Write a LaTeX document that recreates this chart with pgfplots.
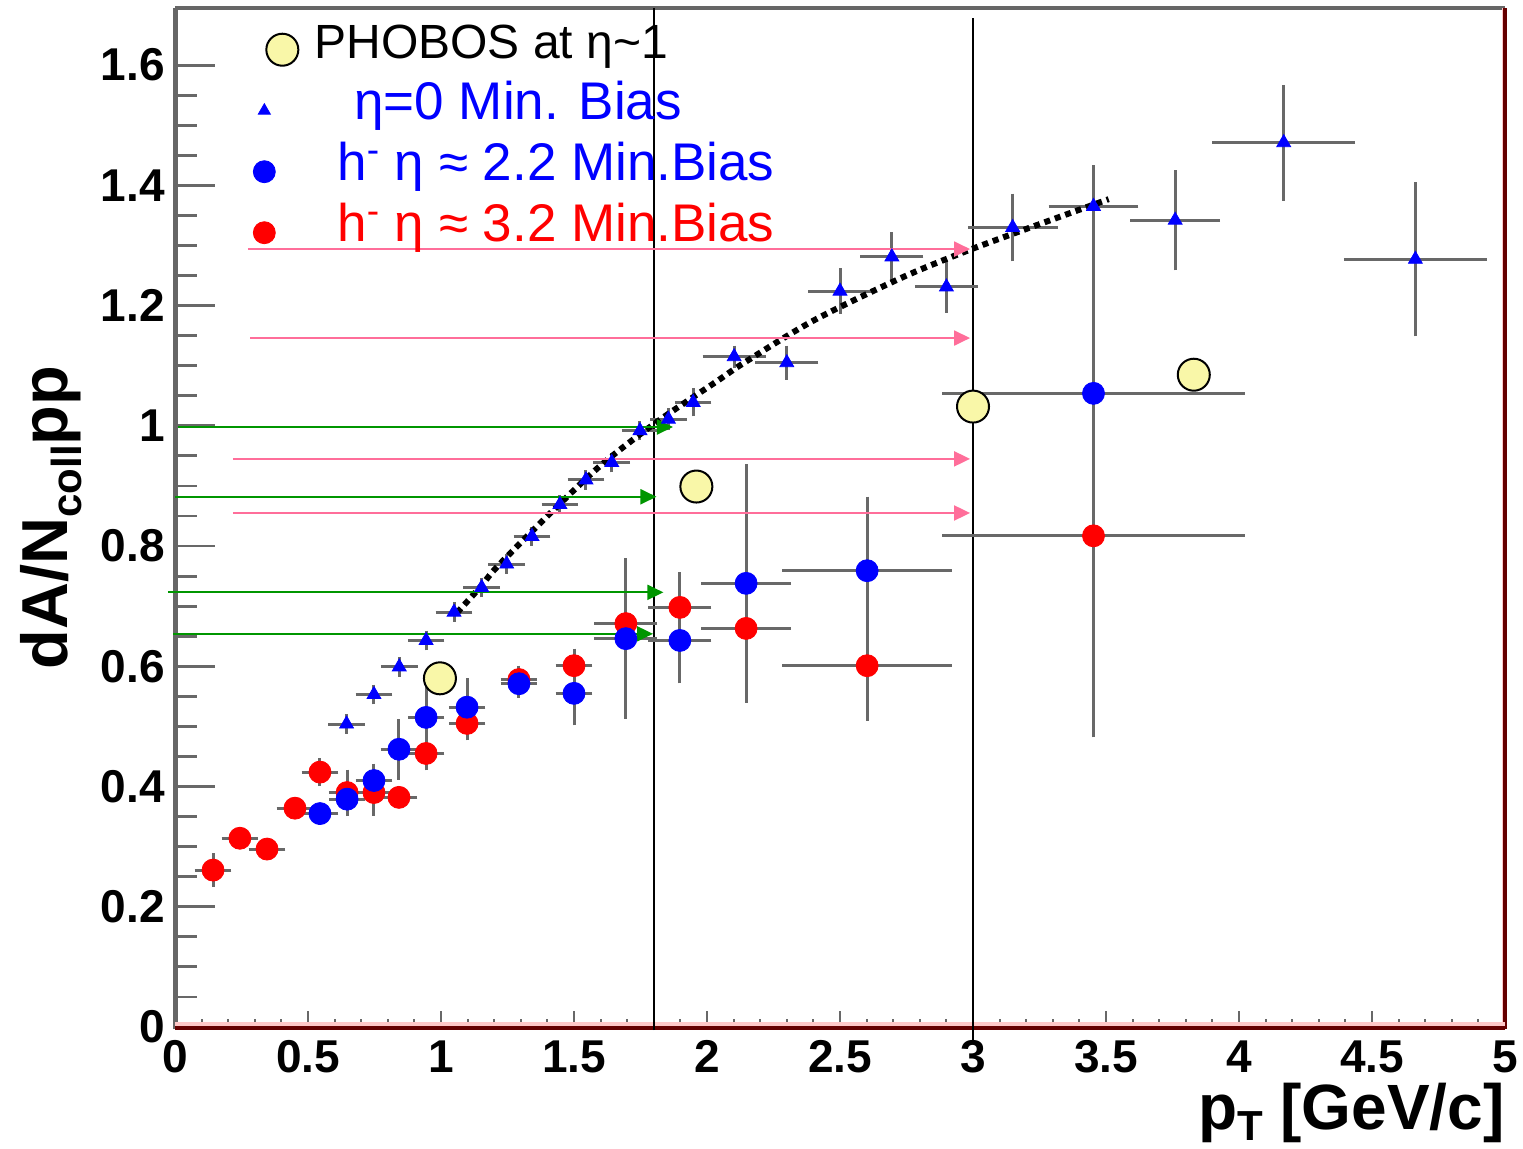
\documentclass[border=0pt]{standalone}
\usepackage{pgfplots}
\pgfplotsset{compat=1.18}
\usepackage{pgfplotstable}
\usepackage{fontspec}
\setmainfont{Liberation Sans}
\usetikzlibrary{arrows.meta}
\definecolor{phobos}{HTML}{F9F7A8}
\definecolor{errgray}{HTML}{686868}
\definecolor{spinegray}{HTML}{666666}
\definecolor{darkred}{HTML}{660000}
\definecolor{pinkband}{HTML}{FFC8C8}
\definecolor{arrowpink}{HTML}{FF6E9A}
\definecolor{arrowgreen}{HTML}{009600}

\pgfplotsset{
  legright/.style={legend image code/.code={\draw[mark repeat=2,mark phase=2,##1] plot coordinates {(0cm,0cm) (0.3cm+5.5bp,0cm) (0.6cm,0cm)};}},
  legleft/.style={legend image code/.code={\draw[mark repeat=2,mark phase=2,##1] plot coordinates {(0cm,0cm) (0.3cm-3.5bp,0cm) (0.6cm,0cm)};}},
}

\pgfplotstableread{
x y ex ey
0.645 0.504 0.05 0.008
0.748 0.553 0.05 0.008
0.843 0.599 0.05 0.008
0.944 0.643 0.05 0.008
1.049 0.690 0.05 0.008
1.153 0.731 0.05 0.008
1.247 0.770 0.05 0.008
1.342 0.816 0.05 0.008
1.447 0.869 0.05 0.008
1.545 0.910 0.05 0.008
1.642 0.939 0.05 0.008
1.748 0.992 0.05 0.008
1.855 1.011 0.05 0.010
1.948 1.039 0.05 0.015
2.102 1.115 0.10 0.010
2.300 1.105 0.10 0.020
2.500 1.224 0.10 0.030
2.695 1.281 0.10 0.033
2.900 1.231 0.10 0.035
3.149 1.330 0.15 0.048
3.453 1.365 0.15 0.060
3.760 1.342 0.15 0.075
4.168 1.471 0.25 0.088
4.663 1.277 0.25 0.120
}\etatab

\pgfplotstableread{
x y ex ey
0.545 0.355 0.05 0.010
0.647 0.379 0.05 0.020
0.748 0.410 0.05 0.020
0.842 0.462 0.05 0.042
0.944 0.515 0.05 0.050
1.098 0.532 0.05 0.040
1.293 0.571 0.05 0.015
1.500 0.555 0.05 0.045
1.695 0.646 0.10 0.125
1.898 0.643 0.10 0.063
2.147 0.738 0.15 0.190
2.602 0.759 0.30 0.115
3.453 1.054 0.55 0.317
}\bluetab

\pgfplotstableread{
x y ex ey
0.143 0.261 0.05 0.020
0.244 0.314 0.05 0.010
0.346 0.296 0.05 0.010
0.451 0.364 0.05 0.010
0.545 0.424 0.05 0.015
0.647 0.390 0.05 0.030
0.748 0.390 0.05 0.030
0.842 0.382 0.05 0.010
0.944 0.455 0.05 0.020
1.098 0.505 0.05 0.020
1.293 0.578 0.05 0.015
1.500 0.601 0.05 0.020
1.695 0.671 0.10 0.025
1.898 0.698 0.10 0.050
2.147 0.663 0.15 0.110
2.602 0.601 0.30 0.083
3.453 0.817 0.55 0.327
}\redtab

\pgfplotstableread{
x y
0.996 0.580
1.960 0.899
3.000 1.032
3.830 1.085
}\phobostab

\begin{document}
\begin{tikzpicture}
\begin{axis}[
  scale only axis, width=665bp, height=509.5bp,
  xmin=0, xmax=5, ymin=0, ymax=1.695,
  clip=false,
  axis line style={draw=none},
  tick pos=left,
  tick align=inside,
  xtick={0,0.5,1,1.5,2,2.5,3,3.5,4,4.5,5},
  xticklabels={0,0.5,1,1.5,2,2.5,3,3.5,4,4.5,5},
  ytick={0,0.2,0.4,0.6,0.8,1,1.2,1.4,1.6},
  yticklabels={0,0.2,0.4,0.6,0.8,1,1.2,1.4,1.6},
  minor x tick num=4, minor y tick num=3,
  xtick style={/pgfplots/major tick length=8bp, /pgfplots/minor tick length=4bp, color=errgray, line width=1bp},
  ytick style={/pgfplots/major tick length=20bp, /pgfplots/minor tick length=11bp, color=errgray, line width=1.4bp},
  minor tick style={color=errgray, line width=1.2bp},
  /pgf/number format/assume math mode=true,
  tick label style={font=\fontsize{23bp}{23bp}\selectfont\bfseries},
  xticklabel style={inner sep=0pt, yshift=-6.5bp},
  yticklabel style={inner sep=0pt, xshift=-5bp},
  xlabel={p\raisebox{-0.35ex}{\fontsize{21bp}{21bp}\selectfont T} [GeV/c]},
  xlabel style={at={(axis description cs:1,0)}, anchor=base east, yshift=-51bp, inner sep=0pt, font=\fontsize{32bp}{38bp}\selectfont\bfseries},
  ylabel={dA/N\raisebox{-0.4ex}{\fontsize{21bp}{21bp}\selectfont coll}pp},
  ylabel style={at={(axis description cs:-0.0805,0.5)}, anchor=base, inner sep=0pt, font=\fontsize{32.5bp}{38bp}\selectfont\bfseries},
  legend style={draw=none, fill=none, at={(axis cs:0.293,1.677)}, anchor=north west,
    inner sep=0pt, row sep=0pt,
    font=\fontsize{24bp}{29bp}\selectfont,
    nodes={inner sep=0pt, text height=19.5bp, text depth=11bp}},
  legend cell align=left,
]
% legend images
\addlegendimage{legright, only marks, mark=*, mark size=8bp, mark options={fill=phobos, draw=black, line width=1bp}}
\addlegendentry{\hspace{8bp}PHOBOS at η\textasciitilde 1}
\addlegendimage{legleft, only marks, mark=triangle*, mark size=3.5bp, color=blue}
\addlegendentry{\hspace{28bp}\textcolor{blue}{\fontsize{26.5bp}{29bp}\selectfont η=0 Min. Bias}}
\addlegendimage{legleft, only marks, mark=*, mark size=5.5bp, color=blue}
\addlegendentry{\hspace{19.5bp}\textcolor{blue}{\fontsize{26.5bp}{29bp}\selectfont h\textsuperscript{-} η ≈ 2.2 Min.Bias}}
\addlegendimage{legleft, only marks, mark=*, mark size=5.5bp, color=red}
\addlegendentry{\hspace{19.5bp}\textcolor{red}{\fontsize{26.5bp}{29bp}\selectfont h\textsuperscript{-} η ≈ 3.2 Min.Bias}}

% spines
\addplot[forget plot, spinegray, line width=2.5bp] coordinates {(0,-0.004) (0,1.695)};
\addplot[forget plot, spinegray, line width=2bp] coordinates {(0,1.695) (5,1.695)};
\addplot[forget plot, pinkband, line width=1.6bp] coordinates {(4.994,0) (4.994,1.695)};
\addplot[forget plot, darkred, line width=2bp] coordinates {(5,-0.004) (5,1.695)};
\addplot[forget plot, pinkband, line width=2bp] coordinates {(0,0.0050) (5,0.0050)};
\addplot[forget plot, darkred, line width=2bp] coordinates {(0,-0.0015) (5,-0.0015)};

% vertical lines
\addplot[forget plot, black, line width=0.8bp] coordinates {(1.8,-0.005) (1.8,1.695)};
\addplot[forget plot, black, line width=0.8bp] coordinates {(3.0,-0.022) (3.0,1.678)};

% eta=0 triangles
\addplot[forget plot, only marks, mark=triangle*, mark size=4bp, color=blue,
  error bars/.cd, x dir=both, x explicit, y dir=both, y explicit,
  error bar style={color=errgray, line width=1.5bp},
  error mark options={color=errgray, line width=1.5bp, mark size=2.5bp}]
  table[x=x, y=y, x error=ex, y error=ey] {\etatab};

% red h- eta 3.2
\addplot[forget plot, only marks, mark=*, mark size=5.5bp, color=red,
  error bars/.cd, x dir=both, x explicit, y dir=both, y explicit,
  error bar style={color=errgray, line width=1.5bp},
  error mark options={color=errgray, line width=1.5bp, mark size=2.5bp}]
  table[x=x, y=y, x error=ex, y error=ey] {\redtab};

% blue h- eta 2.2
\addplot[forget plot, only marks, mark=*, mark size=5.5bp, color=blue,
  error bars/.cd, x dir=both, x explicit, y dir=both, y explicit,
  error bar style={color=errgray, line width=1.5bp},
  error mark options={color=errgray, line width=1.5bp, mark size=2.5bp}]
  table[x=x, y=y, x error=ex, y error=ey] {\bluetab};

% dotted fit
\addplot[forget plot, black, line width=3bp, dash pattern=on 3bp off 2.5bp, smooth] coordinates {
  (1.06,0.689) (1.15,0.733) (1.21,0.765) (1.40,0.850) (1.60,0.934) (1.81,1.006)
  (2.04,1.075) (2.14,1.105) (2.40,1.175) (2.73,1.246) (2.96,1.288) (3.16,1.321) (3.51,1.377)};

% PHOBOS
\addplot[forget plot, only marks, mark=*, mark size=8bp, mark options={fill=phobos, draw=black, line width=1bp}]
  table[x=x, y=y] {\phobostab};

% arrows
\addplot[forget plot, arrowpink, line width=1bp, -{Triangle[length=8bp,width=7.5bp]}] coordinates {(0.274,1.294) (2.989,1.294)};
\addplot[forget plot, arrowpink, line width=1bp, -{Triangle[length=8bp,width=7.5bp]}] coordinates {(0.282,1.146) (2.989,1.146)};
\addplot[forget plot, arrowpink, line width=1bp, -{Triangle[length=8bp,width=7.5bp]}] coordinates {(0.218,0.945) (2.989,0.945)};
\addplot[forget plot, arrowpink, line width=1bp, -{Triangle[length=8bp,width=7.5bp]}] coordinates {(0.218,0.855) (2.989,0.855)};
\addplot[forget plot, arrowgreen, line width=1bp, -{Triangle[length=8bp,width=7.5bp]}] coordinates {(0.01,0.998) (1.872,0.998)};
\addplot[forget plot, arrowgreen, line width=1bp, -{Triangle[length=8bp,width=7.5bp]}] coordinates {(0.0,0.882) (1.81,0.882)};
\addplot[forget plot, arrowgreen, line width=1bp, -{Triangle[length=8bp,width=7.5bp]}] coordinates {(-0.027,0.723) (1.836,0.723)};
\addplot[forget plot, arrowgreen, line width=1bp, -{Triangle[length=8bp,width=7.5bp]}] coordinates {(-0.006,0.654) (1.797,0.654)};
\end{axis}
\pgfresetboundingbox
\path ([shift={(-87.5bp,-60.5bp)}]current axis.south west) rectangle ([shift={(9bp,4bp)}]current axis.north east);
\end{tikzpicture}
\end{document}
